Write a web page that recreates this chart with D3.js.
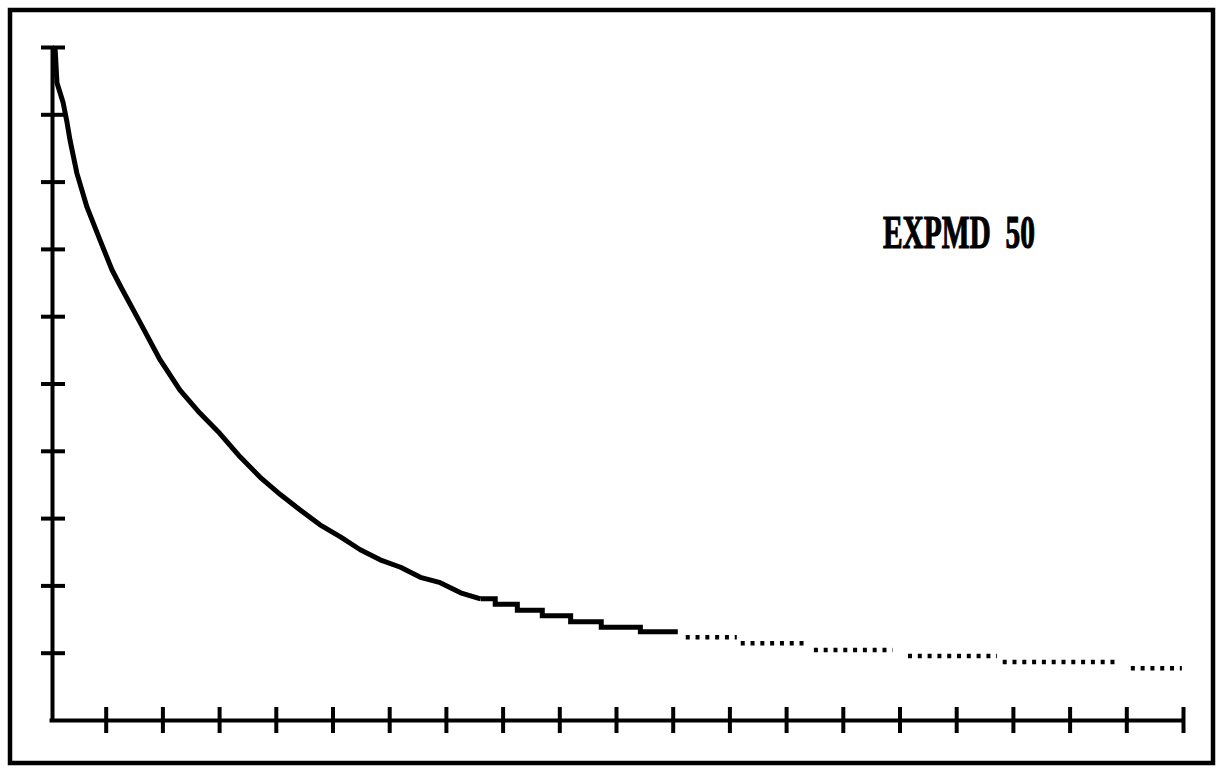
<!DOCTYPE html>
<meta charset="utf-8">
<script src="https://d3js.org/d3.v7.min.js"></script>
<style>
  body { margin: 0; background: #fff; }
</style>
<svg id="chart" width="1218" height="769"></svg>
<script>
// values (x in axis units 0..20, y in axis units 0..10)
var curveX = [0.05, 0.11, 0.14, 0.25, 0.32, 0.37, 0.49, 0.67, 0.90, 1.11, 1.27, 1.61, 1.96, 2.31, 2.66, 3.01, 3.37, 3.72, 4.08, 4.43, 4.78, 5.14, 5.49, 5.84, 6.20, 6.55, 6.90, 7.26, 7.61];
var curveY = [10.0, 9.95, 9.47, 9.17, 8.87, 8.62, 8.13, 7.62, 7.13, 6.69, 6.43, 5.90, 5.35, 4.90, 4.56, 4.26, 3.91, 3.61, 3.35, 3.12, 2.90, 2.72, 2.53, 2.38, 2.27, 2.12, 2.04, 1.89, 1.80];

// staircase part of the solid line: [from, to, level]
var steps = [
  [7.61, 7.87, 1.80],
  [7.87, 8.26, 1.72],
  [8.26, 8.70, 1.63],
  [8.70, 9.20, 1.55],
  [9.20, 9.74, 1.46],
  [9.74, 10.43, 1.38],
  [10.43, 11.09, 1.31]
];

// dotted tail: [from, to, level]
var dotted = [
  [11.23, 12.13, 1.23],
  [12.20, 13.35, 1.14],
  [13.49, 14.88, 1.04],
  [15.15, 16.72, 0.95],
  [16.82, 18.83, 0.86],
  [19.08, 19.98, 0.77]
];

var xTicks = d3.range(1, 21);
var yTicks = d3.range(1, 11);
var label = "EXPMD  50";

var svg = d3.select("#chart");

// frame
svg.append("rect")
  .attr("x", 10).attr("y", 10)
  .attr("width", 1203).attr("height", 753)
  .attr("fill", "none")
  .attr("stroke", "#000")
  .attr("stroke-width", 4.5);

var x = d3.scaleLinear().domain([0, 20]).range([49, 1183]);
var y = d3.scaleLinear().domain([0, 10]).range([720, 47]);

// x axis, ticks crossing the line
var gx = svg.append("g")
  .attr("transform", "translate(0," + y(0) + ")")
  .call(d3.axisBottom(x).tickValues(xTicks).tickSizeOuter(0).tickFormat(""));
gx.selectAll(".tick line").attr("y1", -13).attr("y2", 13);

// y axis
var gy = svg.append("g")
  .attr("transform", "translate(" + (x(0) + 3) + ",0)")
  .call(d3.axisLeft(y).tickValues(yTicks).tickSizeOuter(0).tickFormat(""));
gy.selectAll(".tick line").attr("x1", -11).attr("x2", 13);

svg.selectAll(".domain, .tick line")
  .attr("stroke", "#000")
  .attr("stroke-width", 4);

// solid curve
var pts = curveX.map(function(d, i) { return [d, curveY[i]]; });
var line = d3.line()
  .x(function(d) { return x(d[0]); })
  .y(function(d) { return y(d[1]); });

svg.append("path")
  .attr("d", line(pts))
  .attr("fill", "none")
  .attr("stroke", "#000")
  .attr("stroke-width", 5)
  .attr("stroke-linejoin", "round");

// staircase
var stairPts = [];
steps.forEach(function(s) {
  stairPts.push([s[0], s[2]]);
  stairPts.push([s[1], s[2]]);
});
svg.append("path")
  .attr("d", line(stairPts))
  .attr("fill", "none")
  .attr("stroke", "#000")
  .attr("stroke-width", 5);

// dotted tail
svg.selectAll(".dots")
  .data(dotted)
  .enter().append("line")
    .attr("x1", function(d) { return x(d[0]); })
    .attr("x2", function(d) { return x(d[1]); })
    .attr("y1", function(d) { return y(d[2]); })
    .attr("y2", function(d) { return y(d[2]); })
    .attr("stroke", "#000")
    .attr("stroke-width", 4.5)
    .attr("stroke-dasharray", "4 5.8");

// label
svg.append("text")
  .attr("x", 883)
  .attr("y", 248)
  .attr("textLength", 152)
  .attr("lengthAdjust", "spacingAndGlyphs")
  .attr("stroke", "#000")
  .attr("stroke-width", 1.2)
  .style("font-family", "'Liberation Serif', serif")
  .style("font-weight", "bold")
  .style("font-size", "47px")
  .style("white-space", "pre")
  .text(label);
</script>
